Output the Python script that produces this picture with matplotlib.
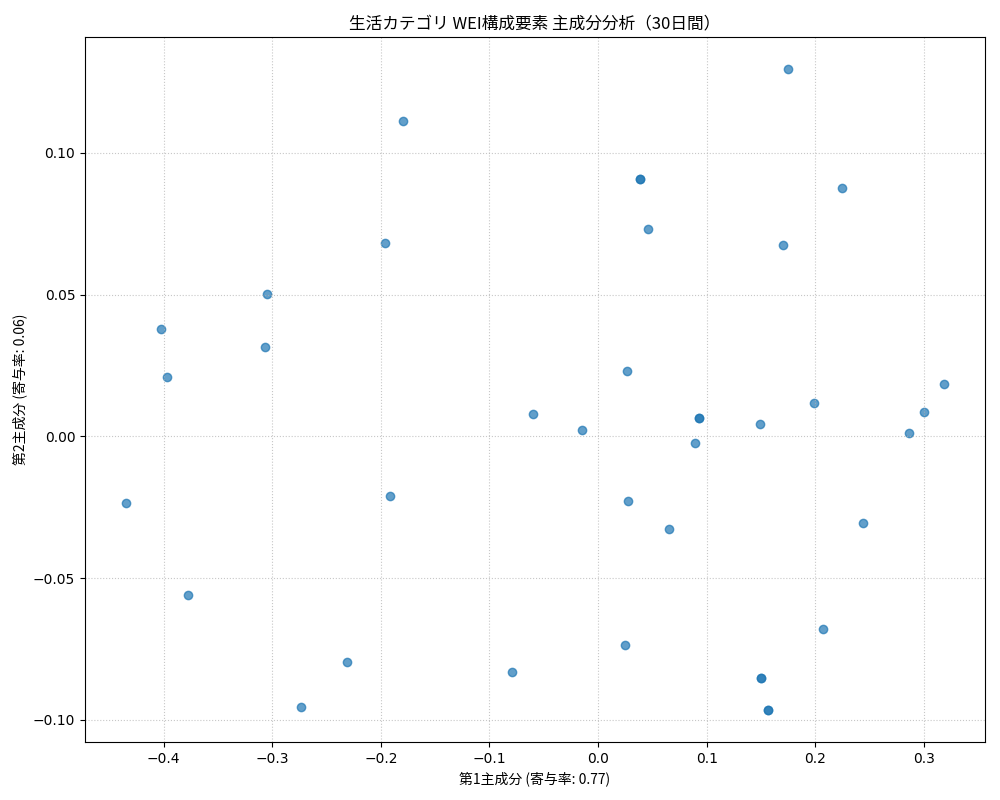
import matplotlib
matplotlib.use("Agg")
import matplotlib.pyplot as plt

JP = ["Noto Sans CJK JP", "DejaVu Sans"]

# PCA scores (PC1, PC2)
pc1 = [0.175, -0.180, 0.039, 0.039, 0.2248, 0.0462, -0.1966, 0.1705,
       -0.305, -0.4026, -0.307, -0.397, 0.027, 0.3186, 0.199, 0.3003,
       -0.0595, 0.0932, 0.0932, 0.149, -0.0144, 0.2863, 0.0895, -0.4348,
       -0.192, 0.0279, 0.244, 0.0656, -0.3777, 0.2071, 0.0252, -0.2316,
       -0.0797, 0.150, 0.150, -0.2739, 0.1566, 0.1566]
pc2 = [0.1296, 0.1113, 0.0908, 0.0908, 0.0877, 0.0732, 0.0683, 0.0675,
       0.0503, 0.0379, 0.0316, 0.0210, 0.0231, 0.0185, 0.0118, 0.0086,
       0.0079, 0.0065, 0.0065, 0.0044, 0.0023, 0.0012, -0.0023, -0.0235,
       -0.021, -0.0228, -0.0305, -0.0326, -0.0559, -0.0679, -0.0735, -0.0795,
       -0.0830, -0.0852, -0.0852, -0.0954, -0.0965, -0.0965]

ratio1 = 0.77
ratio2 = 0.06

fig, ax = plt.subplots(figsize=(10, 8), dpi=100)
ax.scatter(pc1, pc2, color="#1f77b4", alpha=0.7, s=36)

ax.set_xlabel(f"第1主成分 (寄与率: {ratio1:.2f})", family=JP)
ax.set_ylabel(f"第2主成分 (寄与率: {ratio2:.2f})", family=JP)
ax.set_title("生活カテゴリ WEI構成要素 主成分分析（30日間）", family=JP, fontsize=12)
ax.grid(True, linestyle=":", alpha=0.7)

fig.subplots_adjust(left=0.085, right=0.985, top=0.954, bottom=0.0725)
plt.savefig("out.png", dpi=100)
